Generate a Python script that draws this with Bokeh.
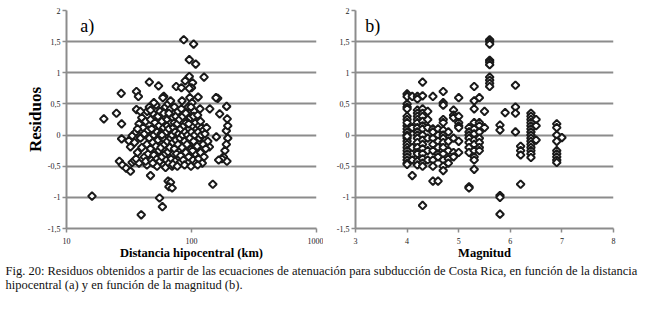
from bokeh.plotting import figure
from bokeh.models import Range1d, FixedTicker, Label, BasicTickFormatter
from bokeh.layouts import column, row
from bokeh.embed import file_html
from bokeh.resources import INLINE

# ---------------- data ----------------
# panel a: hypocentral distance (km) vs residual
dist_km = [
    86.7, 104, 96, 108, 126, 96, 89, 102, 46, 54.5, 75.5, 83, 100, 27.4, 36.3, 37.6, 60, 113, 162, 191,
    19.9, 25.1, 27.6, 27.6, 26.5, 28, 30, 32.5, 33.5, 16, 39.6, 55.5, 58.5, 47, 65, 68, 66, 70, 148, 140,
    157, 168, 193, 190, 195, 195, 190, 185, 180, 192, 175, 158, 139, 165, 36.3, 44.2, 32.5, 31.5, 33.6, 35,
    35, 36, 37, 38, 38, 39, 40, 40, 41, 42, 42, 43, 44, 44, 45, 45, 36, 39, 43, 37,
    46, 46, 47, 47, 48, 48, 49, 49, 50, 50, 51, 51, 52, 52, 53, 53, 54, 54, 55, 55, 50, 53, 47, 49,
    56, 56, 57, 57, 58, 58, 59, 59, 60, 60, 61, 61, 62, 62, 63, 63, 64, 64, 65, 65, 60, 62, 58, 64,
    66, 66, 67, 67, 68, 68, 69, 69, 70, 70, 71, 71, 72, 72, 73, 73, 74, 74, 75, 75, 68, 71, 73, 66,
    76, 77, 78, 78, 79, 80, 80, 81, 82, 82, 83, 84, 85, 85, 86, 87, 88, 89, 90, 90, 77, 84, 88,
    91, 92, 93, 94, 95, 96, 97, 97, 98, 99, 100, 100, 101, 102, 103, 104, 105, 106, 107, 108, 109, 110,
    96, 99, 104, 102, 95,
    111, 112, 113, 114, 115, 116, 118, 118, 120, 121, 122, 124, 125, 126, 128, 130, 132, 135, 117, 112,
]
resid_a = [
    1.53, 1.46, 1.21, 1.14, 0.93, 0.94, 0.87, 0.84, 0.85, 0.79, 0.78, 0.76, 0.76, 0.67, 0.70, 0.62, 0.62, 0.61, 0.59, 0.46,
    0.26, 0.35, 0.18, -0.06, -0.42, -0.48, -0.53, -0.58, -0.44, -0.98, -1.28, -1.01, -1.15, -0.65, -0.74, -0.76, -0.83, -0.85, -0.79, 0.42,
    0.60, 0.34, 0.26, 0.07, 0.15, -0.05, -0.15, -0.25, -0.35, -0.42, -0.38, -0.03, -0.19, -0.40, 0.41, 0.38, -0.19, -0.09, -0.01, -0.41,
    -0.12, 0.05, -0.28, 0.18, -0.45, -0.05, 0.28, -0.20, 0.12, -0.35, 0.02, 0.22, -0.15, -0.48, 0.08, -0.30, -0.38, 0.38, -0.42, 0.10,
    0.45, -0.05, -0.22, 0.25, -0.40, 0.10, 0.35, -0.12, 0.00, -0.32, 0.20, -0.47, 0.48, -0.18, 0.05, -0.38, 0.30, -0.08, 0.15, -0.25, 0.52, -0.50, 0.40, -0.45,
    -0.42, 0.38, 0.02, -0.20, 0.22, -0.35, 0.60, -0.05, 0.12, -0.48, 0.30, -0.15, -0.30, 0.45, 0.05, -0.40, 0.25, -0.10, 0.50, -0.27, 0.35, -0.52, 0.00, 0.15,
    -0.45, 0.10, 0.32, -0.20, -0.05, 0.42, 0.20, -0.38, 0.00, -0.50, 0.28, -0.12, 0.12, -0.30, 0.45, -0.22, 0.05, -0.42, 0.30, -0.08, 0.55, -0.47, 0.20, 0.35,
    -0.30, 0.18, -0.15, 0.38, 0.02, -0.45, 0.25, -0.05, 0.10, -0.33, 0.42, -0.20, 0.00, 0.30, -0.40, 0.15, -0.10, 0.05, -0.28, 0.35, -0.50, 0.55, -0.48,
    0.20, -0.15, 0.00, 0.45, -0.35, 0.10, -0.05, 0.60, 0.28, -0.50, 0.05, -0.22, 0.52, 0.15, -0.40, -0.10, 0.38, 0.00, -0.30, 0.20, -0.45, 0.10,
    0.75, 0.45, 0.30, -0.25, 0.18,
    -0.18, 0.32, 0.05, -0.38, 0.15, -0.05, 0.22, -0.28, 0.00, 0.12, -0.45, -0.15, 0.08, -0.35, 0.02, -0.22, 0.12, -0.10, 0.42, -0.48,
]

# panel b: magnitude vs residual
mag_b = (
    [4.0] * 23 + [4.1] * 5 + [4.2] * 18 + [4.3] * 17 + [4.4] * 6 + [4.5] * 9 + [4.6] * 7 + [4.7] * 14
    + [4.8] * 5 + [4.9] * 6 + [5.0] * 7 + [5.2] * 9 + [5.3] * 12 + [5.4] * 8 + [5.5] * 2 + [5.6] * 10
    + [5.8] * 5 + [5.9] * 1 + [6.1] * 4 + [6.2] * 4 + [6.4] * 15 + [6.5] * 3 + [6.9] * 9 + [7.0] * 1
)
resid_b = [
    0.66, 0.62, 0.50, 0.45, 0.42, 0.30, 0.25, 0.15, 0.10, 0.05, 0.00, -0.05, -0.10, -0.15, -0.20, -0.25, -0.30, -0.35, -0.40, -0.45, -0.47, 0.20, -0.02,
    0.62, -0.65, 0.12, -0.40, -0.20,
    0.62, 0.58, 0.40, 0.35, 0.30, 0.25, 0.20, 0.12, 0.05, 0.00, -0.05, -0.12, -0.20, -0.28, -0.35, -0.42, -0.48, -0.30,
    0.85, 0.63, 0.42, 0.35, 0.30, 0.22, 0.15, 0.10, 0.00, -0.08, -0.15, -0.22, -0.30, -0.38, -0.45, -0.50, -1.13,
    0.38, 0.25, 0.12, -0.05, -0.25, -0.40,
    0.62, 0.10, -0.05, -0.15, -0.25, -0.40, -0.50, -0.74, 0.05,
    -0.74, 0.10, 0.00, -0.10, -0.20, -0.30, -0.35,
    0.70, 0.52, 0.48, 0.25, 0.20, 0.08, 0.00, -0.05, -0.12, -0.20, -0.30, -0.40, -0.50, -0.57,
    0.05, -0.10, -0.25, -0.38, -0.45,
    0.40, 0.32, 0.28, -0.05, -0.28, -0.35,
    0.60, 0.30, 0.20, 0.15, 0.12, -0.10, -0.28,
    -0.83, 0.12, 0.05, 0.00, -0.05, -0.12, -0.20, -0.28, -0.85,
    0.78, 0.55, 0.42, 0.20, 0.10, 0.02, -0.08, -0.15, -0.25, -0.35, -0.40, -0.55,
    0.60, 0.20, 0.15, 0.05, -0.05, -0.12, -0.20, -0.25,
    0.38, 0.12,
    1.53, 1.50, 1.46, 1.20, 1.17, 1.13, 0.93, 0.88, 0.83, 0.78,
    0.16, 0.08, -0.97, -1.00, -1.27,
    0.36,
    0.80, 0.45, 0.35, 0.05,
    -0.18, -0.25, -0.32, -0.79,
    0.35, 0.30, 0.25, 0.20, 0.15, 0.10, 0.05, 0.00, -0.05, -0.10, -0.15, -0.20, -0.25, -0.30, -0.36,
    0.25, 0.15, -0.08,
    0.18, 0.12, 0.00, -0.10, -0.25, -0.30, -0.35, -0.40, -0.44,
    -0.04,
]

y_ticks = [-1.5, -1, -0.5, 0, 0.5, 1, 1.5, 2]
y_tick_labels = ["-1,5", "-1", "-0,5", "0", "0,5", "1", "1,5", "2"]
x_ticks_a = [10, 100, 1000]
x_ticks_b = [3, 4, 5, 6, 7, 8]

caption_lines = [
    "Fig. 20: Residuos obtenidos a partir de las ecuaciones de atenuación para subducción de Costa Rica, en función de la distancia",
    "hipocentral (a) y en función de la magnitud (b).",
]

SERIF = "Liberation Serif"
GRID = "#8c8c8c"


def style(p):
    p.outline_line_color = None
    p.background_fill_color = "white"
    p.border_fill_color = "white"
    p.xgrid.grid_line_color = None
    p.ygrid.grid_line_color = GRID
    p.ygrid.grid_line_width = 2
    p.ygrid.ticker = FixedTicker(ticks=y_ticks)
    p.yaxis.ticker = FixedTicker(ticks=y_ticks)
    p.yaxis.major_label_overrides = dict(zip(y_ticks, y_tick_labels))
    for ax in p.axis:
        ax.axis_line_color = GRID
        ax.axis_line_width = 2
        ax.major_tick_line_color = GRID
        ax.major_tick_line_width = 1.5
        ax.major_tick_in = 0
        ax.major_tick_out = 4
        ax.minor_tick_line_color = None
        ax.major_label_text_font = SERIF
        ax.major_label_text_font_size = "8px"
        ax.major_label_text_color = "#222222"
        ax.major_label_standoff = 2
        ax.axis_label_text_font = SERIF
        ax.axis_label_text_font_style = "bold"
        ax.axis_label_text_color = "black"
        ax.axis_label_standoff = 0
    p.xaxis.major_label_standoff = 5
    p.xaxis.axis_label_standoff = -1
    p.xaxis.axis_label_text_font_size = "12.5px"


def markers(p, x, y):
    p.scatter(x, y, marker="square", angle=0.785398, size=5.5,
              fill_color="white", line_color="#1a1a1a", line_width=2.0)


# ---------------- panel a ----------------
pa = figure(width=323, height=262, x_axis_type="log",
            x_range=Range1d(10, 1000), y_range=Range1d(-1.5, 2),
            toolbar_location=None, output_backend="svg",
            min_border_left=66, min_border_right=7, min_border_top=10, min_border_bottom=34)
style(pa)
pa.xaxis.ticker = FixedTicker(ticks=x_ticks_a)
pa.xaxis.formatter = BasicTickFormatter()
pa.xaxis.axis_label = "Distancia hipocentral (km)"
pa.yaxis.axis_label = "Residuos"
pa.yaxis.axis_label_text_font_size = "17px"
markers(pa, dist_km, resid_a)
pa.add_layout(Label(x=12.9, y=1.75, text="a)", text_font=SERIF, text_font_size="18px",
                    text_baseline="middle", text_color="black"))

# ---------------- panel b ----------------
pb = figure(width=324, height=262,
            x_range=Range1d(3, 8), y_range=Range1d(-1.5, 2),
            toolbar_location=None, output_backend="svg",
            min_border_left=32, min_border_right=34, min_border_top=10, min_border_bottom=34)
style(pb)
pb.xaxis.ticker = FixedTicker(ticks=x_ticks_b)
pb.xaxis.axis_label = "Magnitud"
markers(pb, mag_b, resid_b)
pb.add_layout(Label(x=3.19, y=1.75, text="b)", text_font=SERIF, text_font_size="18px",
                    text_baseline="middle", text_color="black"))

# ---------------- caption ----------------
pc = figure(width=647, height=53, x_range=Range1d(0, 647), y_range=Range1d(0, 53),
            toolbar_location=None, output_backend="svg",
            x_axis_location=None, y_axis_location=None,
            min_border_left=0, min_border_right=0, min_border_top=0, min_border_bottom=0)
pc.outline_line_color = None
pc.xgrid.grid_line_color = None
pc.ygrid.grid_line_color = None
for i, line in enumerate(caption_lines):
    pc.add_layout(Label(x=5, y=45 - 14 * i, text=line, text_font=SERIF, text_font_size="12.5px",
                        text_baseline="middle", text_color="#111111"))

layout = column(row(pa, pb), pc)
open("out.html", "w").write(file_html(layout, INLINE))
